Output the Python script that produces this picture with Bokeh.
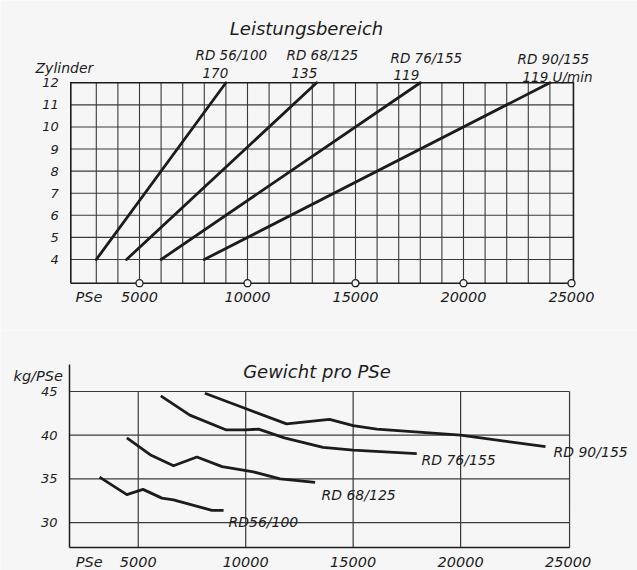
from bokeh.plotting import figure
from bokeh.models import Range1d, FixedTicker, Label
from bokeh.layouts import column
from bokeh.embed import file_html
from bokeh.resources import INLINE

# ---------------- data: Leistungsbereich (Zylinder über PSe) ----------------
models = ["RD 56/100", "RD 68/125", "RD 76/155", "RD 90/155"]
speeds = ["170", "135", "119", "119 U/min"]
cyl_low = [4, 4, 4, 4]
cyl_high = [12, 12, 12, 12]
pse_low = [3000, 4400, 6000, 8000]
pse_high = [9000, 13200, 18000, 24000]

cyl_ticks = [4, 5, 6, 7, 8, 9, 10, 11, 12]
cyl_grid = [4, 5, 6, 7, 8, 9, 10, 11]
pse_grid = list(range(3000, 25000, 1000))
pse_ticks = [5000, 10000, 15000, 20000, 25000]
pse_tick_labels = ["5000", "10000", "15000", "20000", "25000"]

# ---------------- data: Gewicht pro PSe (kg/PSe über PSe) ----------------
w56_x = [3200, 4470, 5220, 6100, 6640, 8430, 8970]
w56_y = [35.2, 33.2, 33.8, 32.8, 32.6, 31.4, 31.4]
w68_x = [4470, 5600, 6640, 7730, 8900, 10360, 11600, 13230]
w68_y = [39.7, 37.7, 36.5, 37.5, 36.4, 35.8, 35.0, 34.6]
w76_x = [6050, 7400, 9100, 10000, 10600, 11800, 13600, 15000, 17960]
w76_y = [44.5, 42.3, 40.6, 40.6, 40.7, 39.7, 38.6, 38.3, 37.9]
w90_x = [8100, 10050, 11900, 13900, 15000, 16100, 20000, 23950]
w90_y = [44.8, 43.0, 41.3, 41.8, 41.1, 40.7, 40.0, 38.7]
weight_series_x = [w56_x, w68_x, w76_x, w90_x]
weight_series_y = [w56_y, w68_y, w76_y, w90_y]
weight_names = ["RD56/100", "RD 68/125", "RD 76/155", "RD 90/155"]
weight_ticks = [30, 35, 40, 45]
weight_grid_x = [5000, 10000, 15000, 20000]

# ---------------- styling / layout ----------------
FONT = "DejaVu Sans"
INK = "#1c1c1c"
GRID = "#3a3a3a"
BG = "#f6f6f6"
W = 637
H1, H2 = 330, 240
TOP1, TOP2 = 0, H1


# page-pixel -> data helpers (layout only)
def tx(px):
    return (px - 31.0) / 0.0216


def ty(py):
    return 4 + (259.0 - py) / 22.09


def bx(px):
    return (px - 30.3) / 0.02149


def by(py):
    return 45 - (py - 391.0) / 8.74


def label(p, x, y, text, size, align="left"):
    p.add_layout(Label(x=x, y=y, text=text, text_font=FONT, text_font_style="italic",
                       text_font_size=size, text_color=INK, text_align=align,
                       text_baseline="alphabetic"))


def style_axis(ax, size, standoff):
    ax.major_tick_line_color = None
    ax.minor_tick_line_color = None
    ax.major_tick_out = 0
    ax.major_tick_in = 0
    ax.minor_tick_out = 0
    ax.major_label_text_font = FONT
    ax.major_label_text_font_style = "italic"
    ax.major_label_text_color = INK
    ax.major_label_text_font_size = size
    ax.major_label_standoff = standoff


# ================= top chart =================
X_LO, X_HI = 1820, 25090
Y_LO, Y_HI = ty(282.7), 12
PSE_POS_TOP = tx(88.5)

p1 = figure(width=W, height=H1, output_backend="svg", toolbar_location=None,
            x_range=Range1d(tx(0), tx(W)), y_range=Range1d(ty(TOP1 + H1), ty(TOP1)),
            min_border=0)
p1.outline_line_color = None
p1.background_fill_color = BG
p1.border_fill_color = BG
p1.grid.visible = False

p1.segment(x0=pse_grid, x1=pse_grid, y0=[Y_LO] * len(pse_grid), y1=[Y_HI] * len(pse_grid),
           line_color=GRID, line_width=1.1)
p1.segment(x0=[X_LO] * len(cyl_grid), x1=[X_HI] * len(cyl_grid), y0=cyl_grid, y1=cyl_grid,
           line_color=GRID, line_width=1.1)

p1.multi_line(xs=[[X_LO, X_HI, X_HI, X_LO, X_LO]], ys=[[Y_LO, Y_LO, Y_HI, Y_HI, Y_LO]],
              line_color=INK, line_width=1.6, line_join="miter")

for i in range(len(models)):
    p1.line([pse_low[i], pse_high[i]], [cyl_low[i], cyl_high[i]], line_color=INK,
            line_width=2.8, line_cap="round")

p1.scatter(pse_ticks, [Y_LO] * len(pse_ticks), size=7, marker="circle",
           fill_color=BG, line_color=INK, line_width=1.3)

p1.xaxis.ticker = FixedTicker(ticks=[PSE_POS_TOP] + pse_ticks)
ov = {PSE_POS_TOP: "PSe"}
ov.update({t: l for t, l in zip(pse_ticks, pse_tick_labels)})
p1.xaxis.major_label_overrides = ov
p1.xaxis.fixed_location = Y_LO
p1.xaxis.axis_line_color = None
p1.yaxis.ticker = FixedTicker(ticks=cyl_ticks)
p1.yaxis.fixed_location = X_LO
p1.yaxis.axis_line_color = None
style_axis(p1.xaxis, "14.5px", 6)
style_axis(p1.yaxis, "13px", 12)

label(p1, tx(306), ty(28), "Leistungsbereich", "18px", "center")
label(p1, tx(35), ty(67.7), "Zylinder", "14px")
model_px = [195, 286, 390, 517]
model_base = [54, 54, 57, 58]
speed_px = [202, 291, 393, 522]
speed_base = [72.5, 72.5, 74, 76]
for i in range(len(models)):
    label(p1, tx(model_px[i]), ty(model_base[i]), models[i], "13.5px")
    label(p1, tx(speed_px[i]), ty(speed_base[i]), speeds[i], "13.5px")

# ================= bottom chart =================
B_X_LO, B_X_HI = bx(69), 25070
B_Y_LO, B_Y_HI = by(547.3), 45
B_AXIS_TOP = by(364)
PSE_POS_BOT = bx(88.7)

p2 = figure(width=W, height=H2, output_backend="svg", toolbar_location=None,
            x_range=Range1d(bx(0), bx(W)), y_range=Range1d(by(TOP2 + H2), by(TOP2)),
            min_border=0)
p2.outline_line_color = None
p2.background_fill_color = BG
p2.border_fill_color = BG
p2.grid.visible = False

p2.segment(x0=weight_grid_x, x1=weight_grid_x, y0=[B_Y_LO] * len(weight_grid_x),
           y1=[B_Y_HI] * len(weight_grid_x), line_color=GRID, line_width=1.2)
p2.segment(x0=[B_X_LO] * len(weight_ticks), x1=[B_X_HI] * len(weight_ticks),
           y0=weight_ticks, y1=weight_ticks, line_color=GRID, line_width=1.2)
p2.segment(x0=[B_X_HI], x1=[B_X_HI], y0=[B_Y_LO], y1=[B_Y_HI], line_color=GRID, line_width=1.2)

for xs, ys in zip(weight_series_x, weight_series_y):
    p2.line(xs, ys, line_color=INK, line_width=2.8, line_join="round")

p2.xaxis.ticker = FixedTicker(ticks=[PSE_POS_BOT] + pse_ticks)
ov2 = {PSE_POS_BOT: "PSe"}
ov2.update({t: l for t, l in zip(pse_ticks, pse_tick_labels)})
p2.xaxis.major_label_overrides = ov2
p2.xaxis.fixed_location = B_Y_LO
p2.xaxis.bounds = (B_X_LO, B_X_HI)
p2.yaxis.ticker = FixedTicker(ticks=weight_ticks)
p2.yaxis.fixed_location = B_X_LO
p2.yaxis.bounds = (B_Y_LO, B_AXIS_TOP)
for ax in (p2.xaxis, p2.yaxis):
    ax.axis_line_color = INK
    ax.axis_line_width = 1.5
style_axis(p2.xaxis, "14.5px", 6)
style_axis(p2.yaxis, "13px", 12)

label(p2, bx(316.5), by(370.7), "Gewicht pro PSe", "18px", "center")
label(p2, bx(13), by(375), "kg/PSe", "14.5px")
name_px = [228, 321, 421, 553]
name_base = [521.7, 494, 459, 451]
for i in range(len(weight_names)):
    label(p2, bx(name_px[i]), by(name_base[i]), weight_names[i], "14px")

layout = column(p1, p2)
open("out.html", "w").write(file_html(layout, INLINE))
